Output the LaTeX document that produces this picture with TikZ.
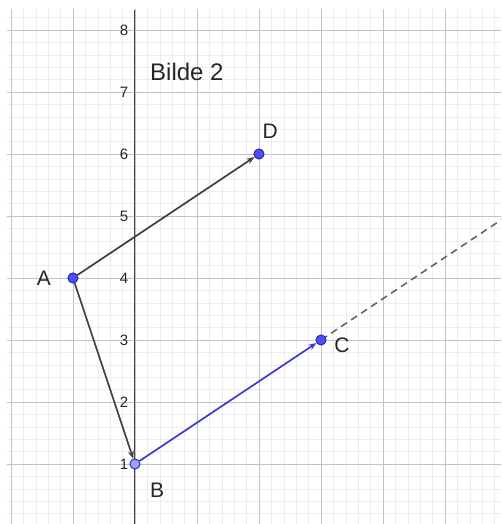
\documentclass[tikz,border=0pt]{standalone}
\usepackage{fontspec}
\setmainfont{Liberation Sans}
\usetikzlibrary{arrows.meta}
\definecolor{ptblue}{RGB}{77,77,255}
\definecolor{ptlight}{RGB}{160,160,255}
\definecolor{ptedge}{RGB}{40,40,170}
\definecolor{vecgray}{RGB}{64,64,64}
\definecolor{vecblue}{RGB}{60,60,210}
\definecolor{majorgrid}{RGB}{195,195,195}
\definecolor{minorgrid}{RGB}{236,236,236}
\begin{document}
\begin{tikzpicture}[x=62pt,y=62pt,
  pt/.style={circle,draw=ptedge,fill=ptblue,line width=0.8pt,inner sep=0pt,minimum size=10pt},
  vec/.style={vecgray,line width=1.7pt,-{Stealth[length=8pt,width=6pt]}},
  vecb/.style={vecblue,line width=1.7pt,-{Stealth[length=8pt,width=6pt]}},
  tick/.style={anchor=east,font=\fontsize{15}{15}\selectfont,text=black!85,inner sep=1pt},
  ptlabel/.style={font=\fontsize{21}{21}\selectfont,text=black!85,inner sep=0pt},
  title/.style={anchor=west,font=\fontsize{24}{24}\selectfont,text=black!85,inner sep=0pt}]
\useasboundingbox (-2.1774,0.0323) rectangle (5.9032,8.4839);
\begin{scope}
  \clip (-2.0645,0.0323) rectangle (5.9032,8.3226);
  \draw[minorgrid,line width=0.5pt,step=0.2] (-2.2,0) grid (6,8.4);
  \draw[majorgrid,line width=0.8pt,step=1] (-2.2,0) grid (6,8.4);
  \coordinate (E) at (5.95,4.9667);
  \node[inner sep=0pt,minimum size=0pt] (Cd) at (3,3) {};
  \draw[gray!80!black,line width=1.6pt,dash pattern=on 7pt off 5pt] (Cd) -- (E);
\end{scope}
\coordinate (Ybot) at (0,0.0323);
\coordinate (Ytop) at (0,8.3226);
\draw[black!75,line width=1pt] (Ybot) -- (Ytop);
\foreach \k in {1,...,8} {
  \node[tick] (t\k) at (-0.09,\k) {\k};
}
\node[title] (title) at (0.242,7.32) {Bilde 2};
\node[pt] (A) at (-1,4) {};
\node[pt,fill=ptlight] (B) at (0,1) {};
\node[pt] (C) at (3,3) {};
\node[pt] (D) at (2,6) {};
\draw[vec] (A) -- (D);
\draw[vec] (A) -- (B);
\draw[vecb] (B) -- (C);
\node[pt] at (A) {};
\node[pt,fill=ptlight] at (B) {};
\node[pt] at (C) {};
\node[pt] at (D) {};
\node[ptlabel] (lA) at (-1.47,4.0) {A};
\node[ptlabel] (lB) at (0.355,0.58) {B};
\node[ptlabel] (lC) at (3.34,2.92) {C};
\node[ptlabel] (lD) at (2.18,6.36) {D};
\end{tikzpicture}
\end{document}
